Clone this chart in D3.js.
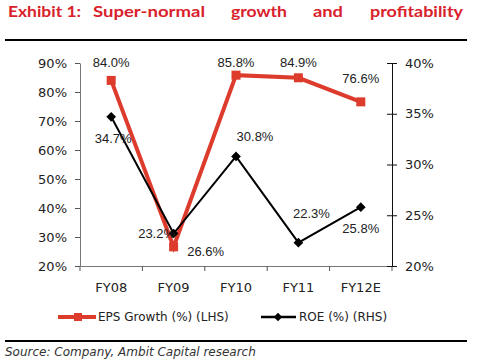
<!DOCTYPE html>
<html lang="en">
<head>
<meta charset="utf-8">
<title>Exhibit 1</title>
<style>
  body { margin: 0; background: #fff; }
  .title { font: bold 15px Lato, "Open Sans", sans-serif; fill: #d9212b; }
  .tick text { font: 13px "DejaVu Sans", sans-serif; fill: #222; }
  .lab { font: 13px "Liberation Sans", Arial, sans-serif; fill: #222; }
  .legend text { font: 12px "DejaVu Sans", sans-serif; fill: #222; }
  .source { font: italic 12px "DejaVu Sans", sans-serif; fill: #333; }
</style>
</head>
<body>
<svg id="chart" width="478" height="363"></svg>
<script src="https://cdn.jsdelivr.net/npm/d3@7"></script>
<script>
var years = ["FY08", "FY09", "FY10", "FY11", "FY12E"];
var epsGrowth = [84.0, 26.6, 85.8, 84.9, 76.6];
var roe = [34.7, 23.2, 30.8, 22.3, 25.8];
var leftTicks = [20, 30, 40, 50, 60, 70, 80, 90];
var rightTicks = [20, 25, 30, 35, 40];

// label offsets (dx, dy) relative to each point
var epsOffsets = [[0, -18], [32, 5], [0, -13], [0, -15], [0, -23]];
var roeOffsets = [[2, 22], [-17, 0], [19, -20], [13, -29], [0, 21]];

var svg = d3.select("#chart");
var red = "#dd3b2c";

// title, words spread across the width: [word, x, width]
var titleWords = [["Exhibit 1:", 8, 73], ["Super-normal", 93, 112], ["growth", 231, 56], ["and", 313, 30], ["profitability", 370, 93]];
svg.append("text").attr("class", "title").attr("y", 17)
  .selectAll("tspan").data(titleWords).enter().append("tspan")
  .attr("x", function(d) { return d[1]; })
  .attr("textLength", function(d) { return d[2]; })
  .attr("lengthAdjust", "spacingAndGlyphs")
  .text(function(d) { return d[0]; });

svg.append("line").attr("x1", 5).attr("x2", 467).attr("y1", 40).attr("y2", 40)
  .attr("stroke", "#000").attr("stroke-width", 2);
svg.append("line").attr("x1", 5).attr("x2", 467).attr("y1", 341).attr("y2", 341)
  .attr("stroke", "#000").attr("stroke-width", 2);

var x = d3.scaleBand().domain(years).range([80, 392]);
var yL = d3.scaleLinear().domain([20, 90]).range([266, 63]);
var yR = d3.scaleLinear().domain([20, 40]).range([266, 63]);

// x axis
var xAxis = svg.append("g").attr("transform", "translate(0,266)")
  .call(d3.axisBottom(x).tickSize(0).tickPadding(17));
xAxis.select(".domain").attr("stroke", "#777");
xAxis.selectAll(".tick line").remove();
xAxis.selectAll(".bound").data(d3.range(years.length + 1)).enter().append("line")
  .attr("x1", function(i) { return 80 + i * x.bandwidth(); })
  .attr("x2", function(i) { return 80 + i * x.bandwidth(); })
  .attr("y1", 0).attr("y2", 5).attr("stroke", "#555");

// left axis
var lAxis = svg.append("g").attr("transform", "translate(80,0)")
  .call(d3.axisLeft(yL).tickValues(leftTicks).tickSize(5).tickPadding(8).tickSizeOuter(0)
    .tickFormat(function(d) { return d + "%"; }));
lAxis.select(".domain").attr("stroke", "#777");
lAxis.selectAll(".tick line").attr("stroke", "#555");

// right axis
var rAxis = svg.append("g").attr("transform", "translate(392,0)")
  .call(d3.axisRight(yR).tickValues(rightTicks).tickSize(5).tickPadding(8).tickSizeOuter(0)
    .tickFormat(function(d) { return d + "%"; }));
rAxis.select(".domain").attr("stroke", "#111");
rAxis.selectAll(".tick line").attr("x1", -5).attr("stroke", "#111");

var cx = function(d, i) { return x(years[i]) + x.bandwidth() / 2; };

// EPS line
svg.append("path").datum(epsGrowth)
  .attr("fill", "none").attr("stroke", red).attr("stroke-width", 4)
  .attr("d", d3.line().x(cx).y(function(d) { return yL(d); }));
svg.selectAll(".sq").data(epsGrowth).enter().append("rect")
  .attr("x", function(d, i) { return cx(d, i) - 4.5; })
  .attr("y", function(d) { return yL(d) - 4.5; })
  .attr("width", 9).attr("height", 9).attr("fill", red);

// ROE line
svg.append("path").datum(roe)
  .attr("fill", "none").attr("stroke", "#000").attr("stroke-width", 2)
  .attr("d", d3.line().x(cx).y(function(d) { return yR(d); }));
var diamond = d3.symbol().type(d3.symbolDiamond2).size(60);
svg.selectAll(".dm").data(roe).enter().append("path")
  .attr("d", diamond)
  .attr("transform", function(d, i) { return "translate(" + cx(d, i) + "," + yR(d) + ")"; })
  .attr("fill", "#000");

// data labels
svg.selectAll(".epsLab").data(epsGrowth).enter().append("text").attr("class", "lab")
  .attr("x", function(d, i) { return cx(d, i) + epsOffsets[i][0]; })
  .attr("y", function(d, i) { return yL(d) + epsOffsets[i][1]; })
  .attr("dy", "0.35em").attr("text-anchor", "middle")
  .text(function(d) { return d.toFixed(1) + "%"; });
svg.selectAll(".roeLab").data(roe).enter().append("text").attr("class", "lab")
  .attr("x", function(d, i) { return cx(d, i) + roeOffsets[i][0]; })
  .attr("y", function(d, i) { return yR(d) + roeOffsets[i][1]; })
  .attr("dy", "0.35em").attr("text-anchor", "middle")
  .text(function(d) { return d.toFixed(1) + "%"; });

// legend
var legend = svg.append("g").attr("class", "legend");
legend.append("line").attr("x1", 58).attr("x2", 96).attr("y1", 317).attr("y2", 317)
  .attr("stroke", red).attr("stroke-width", 4);
legend.append("rect").attr("x", 74).attr("y", 313).attr("width", 8).attr("height", 8).attr("fill", red);
legend.append("text").attr("x", 98).attr("y", 317).attr("dy", "0.35em").text("EPS Growth (%) (LHS)");
legend.append("line").attr("x1", 261).attr("x2", 296).attr("y1", 317).attr("y2", 317)
  .attr("stroke", "#000").attr("stroke-width", 2.5);
legend.append("path").attr("d", d3.symbol().type(d3.symbolDiamond2).size(45))
  .attr("transform", "translate(278,317)").attr("fill", "#000");
legend.append("text").attr("x", 299).attr("y", 317).attr("dy", "0.35em").text("ROE (%) (RHS)");

svg.append("text").attr("class", "source").attr("x", 5).attr("y", 356)
  .text("Source: Company, Ambit Capital research");
</script>
</body>
</html>
